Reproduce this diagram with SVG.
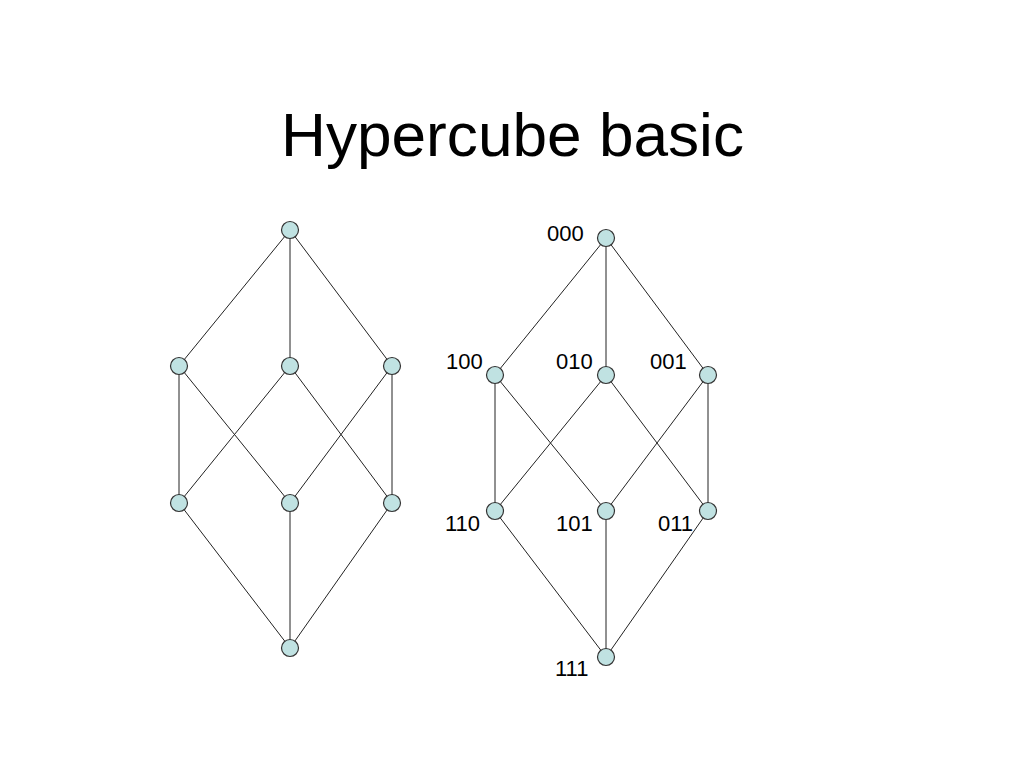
<svg xmlns="http://www.w3.org/2000/svg" width="1024" height="768" viewBox="0 0 1024 768">
<style>
.n{fill:#c0e2e2;stroke:#333;stroke-width:1.2}
.e{stroke:#222;stroke-width:1;fill:none}
.t{font-family:"Liberation Sans",Arial,sans-serif;fill:#000}
.l{font-family:"Liberation Sans",Arial,sans-serif;font-size:22px;fill:#000}
</style>
<rect width="1024" height="768" fill="#fff"/>
<text class="t" x="281" y="156" font-size="62" textLength="463" lengthAdjust="spacingAndGlyphs">Hypercube basic</text>
<g id="connectors" class="e">
<line x1="290" y1="230" x2="179" y2="366"/>
<line x1="290" y1="230" x2="290" y2="366"/>
<line x1="290" y1="230" x2="392" y2="366"/>
<line x1="179" y1="366" x2="179" y2="503"/>
<line x1="179" y1="366" x2="290" y2="503"/>
<line x1="290" y1="366" x2="179" y2="503"/>
<line x1="290" y1="366" x2="392" y2="503"/>
<line x1="392" y1="366" x2="290" y2="503"/>
<line x1="392" y1="366" x2="392" y2="503"/>
<line x1="179" y1="503" x2="290" y2="648"/>
<line x1="290" y1="503" x2="290" y2="648"/>
<line x1="392" y1="503" x2="290" y2="648"/>
<line x1="606" y1="238" x2="495" y2="375"/>
<line x1="606" y1="238" x2="606" y2="375"/>
<line x1="606" y1="238" x2="708" y2="375"/>
<line x1="495" y1="375" x2="495" y2="511"/>
<line x1="495" y1="375" x2="606" y2="511"/>
<line x1="606" y1="375" x2="495" y2="511"/>
<line x1="606" y1="375" x2="708" y2="511"/>
<line x1="708" y1="375" x2="606" y2="511"/>
<line x1="708" y1="375" x2="708" y2="511"/>
<line x1="495" y1="511" x2="606" y2="657"/>
<line x1="606" y1="511" x2="606" y2="657"/>
<line x1="708" y1="511" x2="606" y2="657"/>
</g>
<g id="L-top"><circle class="n" cx="290" cy="230" r="8.5"/></g>
<g id="L-m1"><circle class="n" cx="179" cy="366" r="8.5"/></g>
<g id="L-m2"><circle class="n" cx="290" cy="366" r="8.5"/></g>
<g id="L-m3"><circle class="n" cx="392" cy="366" r="8.5"/></g>
<g id="L-b1"><circle class="n" cx="179" cy="503" r="8.5"/></g>
<g id="L-b2"><circle class="n" cx="290" cy="503" r="8.5"/></g>
<g id="L-b3"><circle class="n" cx="392" cy="503" r="8.5"/></g>
<g id="L-bot"><circle class="n" cx="290" cy="648" r="8.5"/></g>
<g id="n000"><circle class="n" cx="606" cy="238" r="8.5"/><text class="l" x="547" y="241">000</text></g>
<g id="n100"><circle class="n" cx="495" cy="375" r="8.5"/><text class="l" x="446" y="369">100</text></g>
<g id="n010"><circle class="n" cx="606" cy="375" r="8.5"/><text class="l" x="556" y="369">010</text></g>
<g id="n001"><circle class="n" cx="708" cy="375" r="8.5"/><text class="l" x="650" y="369">001</text></g>
<g id="n110"><circle class="n" cx="495" cy="511" r="8.5"/><text class="l" x="445" y="531">110</text></g>
<g id="n101"><circle class="n" cx="606" cy="511" r="8.5"/><text class="l" x="556" y="531">101</text></g>
<g id="n011"><circle class="n" cx="708" cy="511" r="8.5"/><text class="l" x="658" y="531">011</text></g>
<g id="n111"><circle class="n" cx="606" cy="657" r="8.5"/><text class="l" x="555" y="676">111</text></g>
</svg>
